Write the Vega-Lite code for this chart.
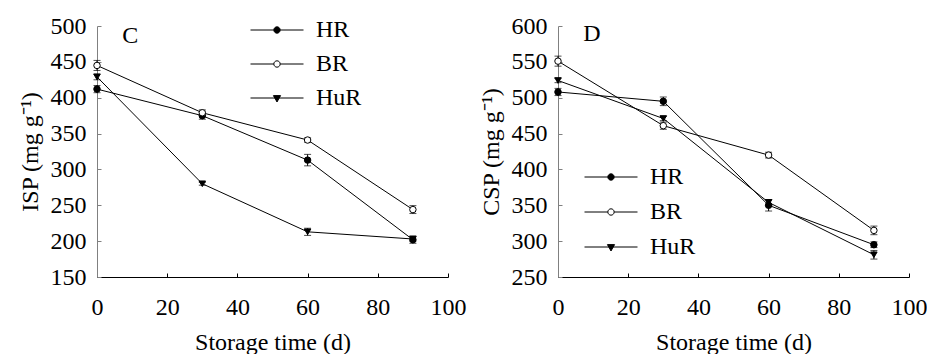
{
  "$schema": "https://vega.github.io/schema/vega-lite/v6.json",
  "background": "white",
  "padding": {"left": 18, "top": 14, "right": 0, "bottom": 0},
  "config": {
    "view": {"stroke": null},
    "font": "Liberation Serif",
    "axis": {
      "labelFont": "Liberation Serif", "titleFont": "Liberation Serif",
      "labelFontSize": 24, "titleFontSize": 24, "titleFontWeight": "normal",
      "labelColor": "black", "titleColor": "black",
      "domainColor": "black", "tickColor": "black", "grid": false,
      "tickSize": -4, "domainWidth": 1, "tickWidth": 1,
      "labelFlush": false, "labelOverlap": false, "labelBound": false
    },
    "axisY": {"domainColor": "#808080", "tickColor": "#808080"},
    "legend": {
      "labelFont": "Liberation Serif", "labelFontSize": 24, "labelColor": "black",
      "padding": 0, "symbolOpacity": 1, "symbolStrokeWidth": 1,
      "symbolSize": 2809, "clipHeight": 30, "labelOffset": 12, "title": null
    }
  },
  "datasets": {
    "C": [
      {"series": "HR", "day": 0, "value": 412, "err": 5},
      {"series": "HR", "day": 30, "value": 375, "err": 5},
      {"series": "HR", "day": 60, "value": 313, "err": 8},
      {"series": "HR", "day": 90, "value": 202, "err": 5},
      {"series": "BR", "day": 0, "value": 445, "err": 7},
      {"series": "BR", "day": 30, "value": 379, "err": 4},
      {"series": "BR", "day": 60, "value": 341, "err": 3},
      {"series": "BR", "day": 90, "value": 244, "err": 5.5},
      {"series": "HuR", "day": 0, "value": 429, "err": 4},
      {"series": "HuR", "day": 30, "value": 280, "err": 2},
      {"series": "HuR", "day": 60, "value": 213, "err": 5},
      {"series": "HuR", "day": 90, "value": 203, "err": 3}
    ],
    "D": [
      {"series": "HR", "day": 0, "value": 508, "err": 5},
      {"series": "HR", "day": 30, "value": 495, "err": 6},
      {"series": "HR", "day": 60, "value": 350, "err": 8},
      {"series": "HR", "day": 90, "value": 295, "err": 4},
      {"series": "BR", "day": 0, "value": 551, "err": 7},
      {"series": "BR", "day": 30, "value": 461, "err": 5},
      {"series": "BR", "day": 60, "value": 420, "err": 4},
      {"series": "BR", "day": 90, "value": 315, "err": 6},
      {"series": "HuR", "day": 0, "value": 524, "err": 3},
      {"series": "HuR", "day": 30, "value": 471, "err": 3},
      {"series": "HuR", "day": 60, "value": 354, "err": 4},
      {"series": "HuR", "day": 90, "value": 281, "err": 6}
    ]
  },
  "bounds": "flush",
  "spacing": 110,
  "resolve": {"scale": {"shape": "independent", "fill": "independent"}, "legend": {"shape": "independent", "fill": "independent"}},
  "hconcat": [
    {
      "width": 351, "height": 251,
      "data": {"name": "C"},
      "resolve": {"scale": {"shape": "independent", "fill": "independent"}},
      "encoding": {
        "x": {"field": "day", "type": "quantitative", "scale": {"domain": [0, 100]},
              "axis": {"values": [0, 20, 40, 60, 80, 100], "title": "Storage time (d)", "labelPadding": 22, "titlePadding": 11}},
        "y": {"field": "value", "type": "quantitative", "scale": {"domain": [150, 500]},
              "axis": {"values": [150, 200, 250, 300, 350, 400, 450, 500], "title": "ISP (mg g⁻¹)", "labelPadding": 15, "titlePadding": 8}}
      },
      "layer": [
        {
          "mark": {"type": "line", "color": "black", "strokeWidth": 1},
          "encoding": {"detail": {"field": "series"}}
        },
        {
          "mark": {"type": "errorbar", "color": "black", "ticks": {"size": 7, "thickness": 1}, "rule": {"strokeWidth": 1}},
          "encoding": {"yError": {"field": "err"}, "detail": {"field": "series"}}
        },
        {
          "mark": {"type": "point", "filled": true, "stroke": "black", "strokeWidth": 1, "size": 42, "opacity": 1},
          "encoding": {
            "shape": {"field": "series", "type": "nominal",
              "scale": {"domain": ["HR", "BR", "HuR"], "range": ["circle", "circle", "triangle-down"]}, "legend": null},
            "fill": {"field": "series", "type": "nominal",
              "scale": {"domain": ["HR", "BR", "HuR"], "range": ["black", "white", "black"]}, "legend": null}
          }
        },
        {
          "mark": {"type": "point", "filled": true, "stroke": "black", "strokeWidth": 1, "opacity": 0},
          "encoding": {
            "shape": {"field": "series", "type": "nominal",
              "scale": {"domain": ["HR", "BR", "HuR"], "range": [
                "M-1,0H-0.12M0.12,0H1M0.12,0A0.12,0.12 0 1,1 -0.12,0A0.12,0.12 0 1,1 0.12,0Z",
                "M-1,0H-0.12M0.12,0H1M0.12,0A0.12,0.12 0 1,1 -0.12,0A0.12,0.12 0 1,1 0.12,0Z",
                "M-1,0H1M-0.135,-0.09L0.135,-0.09L0,0.15Z"]},
              "legend": {"orient": "none", "legendX": 153, "legendY": -11, "rowPadding": 4,
                         "encode": {"symbols": {"stroke": {"value": "black"}, "strokeWidth": {"value": 1}}}}},
            "fill": {"field": "series", "type": "nominal",
              "scale": {"domain": ["HR", "BR", "HuR"], "range": ["black", "white", "black"]},
              "legend": {"orient": "none", "legendX": 153, "legendY": -11, "rowPadding": 4,
                         "encode": {"symbols": {"stroke": {"value": "black"}, "strokeWidth": {"value": 1}}}}}
          }
        },
        {
          "transform": [{"filter": "datum.day == 0 && datum.series == 'HR'"}],
          "mark": {"type": "text", "text": "C", "align": "left", "baseline": "top", "dy": -2, "font": "Liberation Serif", "fontSize": 24, "color": "black"},
          "encoding": {"x": {"datum": 7.2}, "y": {"datum": 500}}
        }
      ]
    },
    {
      "width": 351, "height": 251,
      "data": {"name": "D"},
      "resolve": {"scale": {"shape": "independent", "fill": "independent"}},
      "encoding": {
        "x": {"field": "day", "type": "quantitative", "scale": {"domain": [0, 100]},
              "axis": {"values": [0, 20, 40, 60, 80, 100], "title": "Storage time (d)", "labelPadding": 22, "titlePadding": 11}},
        "y": {"field": "value", "type": "quantitative", "scale": {"domain": [250, 600]},
              "axis": {"values": [250, 300, 350, 400, 450, 500, 550, 600], "title": "CSP (mg g⁻¹)", "labelPadding": 15, "titlePadding": 8}}
      },
      "layer": [
        {
          "mark": {"type": "line", "color": "black", "strokeWidth": 1},
          "encoding": {"detail": {"field": "series"}}
        },
        {
          "mark": {"type": "errorbar", "color": "black", "ticks": {"size": 7, "thickness": 1}, "rule": {"strokeWidth": 1}},
          "encoding": {"yError": {"field": "err"}, "detail": {"field": "series"}}
        },
        {
          "mark": {"type": "point", "filled": true, "stroke": "black", "strokeWidth": 1, "size": 42, "opacity": 1},
          "encoding": {
            "shape": {"field": "series", "type": "nominal",
              "scale": {"domain": ["HR", "BR", "HuR"], "range": ["circle", "circle", "triangle-down"]}, "legend": null},
            "fill": {"field": "series", "type": "nominal",
              "scale": {"domain": ["HR", "BR", "HuR"], "range": ["black", "white", "black"]}, "legend": null}
          }
        },
        {
          "mark": {"type": "point", "filled": true, "stroke": "black", "strokeWidth": 1, "opacity": 0},
          "encoding": {
            "shape": {"field": "series", "type": "nominal",
              "scale": {"domain": ["HR", "BR", "HuR"], "range": [
                "M-1,0H-0.12M0.12,0H1M0.12,0A0.12,0.12 0 1,1 -0.12,0A0.12,0.12 0 1,1 0.12,0Z",
                "M-1,0H-0.12M0.12,0H1M0.12,0A0.12,0.12 0 1,1 -0.12,0A0.12,0.12 0 1,1 0.12,0Z",
                "M-1,0H1M-0.135,-0.09L0.135,-0.09L0,0.15Z"]},
              "legend": {"orient": "none", "legendX": 26, "legendY": 136, "rowPadding": 5,
                         "encode": {"symbols": {"stroke": {"value": "black"}, "strokeWidth": {"value": 1}}}}},
            "fill": {"field": "series", "type": "nominal",
              "scale": {"domain": ["HR", "BR", "HuR"], "range": ["black", "white", "black"]},
              "legend": {"orient": "none", "legendX": 26, "legendY": 136, "rowPadding": 5,
                         "encode": {"symbols": {"stroke": {"value": "black"}, "strokeWidth": {"value": 1}}}}}
          }
        },
        {
          "transform": [{"filter": "datum.day == 0 && datum.series == 'HR'"}],
          "mark": {"type": "text", "text": "D", "align": "left", "baseline": "top", "dy": -4, "font": "Liberation Serif", "fontSize": 24, "color": "black"},
          "encoding": {"x": {"datum": 7.2}, "y": {"datum": 600}}
        }
      ]
    }
  ]
}
